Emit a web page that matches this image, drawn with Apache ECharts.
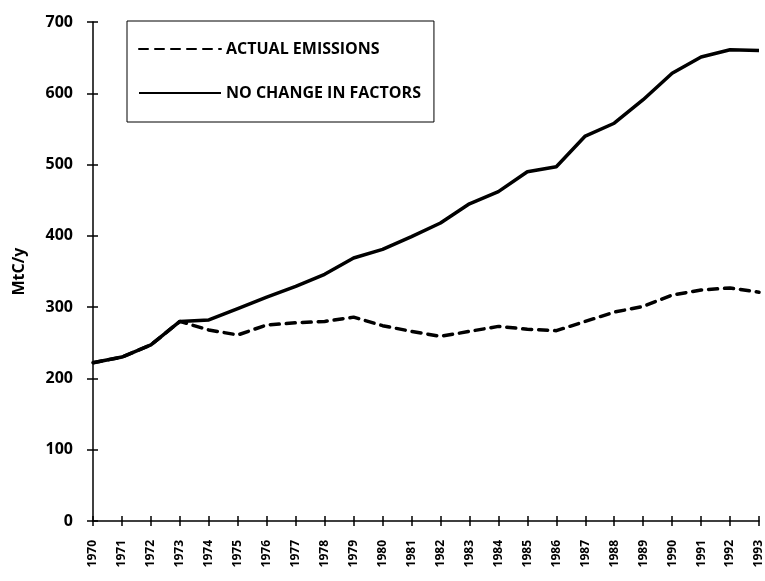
<!DOCTYPE html>
<html>
<head>
<meta charset="utf-8">
<script src="https://cdn.jsdelivr.net/npm/echarts@6/dist/echarts.min.js"></script>
<style>
html,body{margin:0;padding:0;background:#fff;}
#chart{width:765px;height:581px;}
</style>
</head>
<body>
<div id="chart"></div>
<script>
const years = ['1970','1971','1972','1973','1974','1975','1976','1977','1978','1979','1980','1981','1982','1983','1984','1985','1986','1987','1988','1989','1990','1991','1992','1993'];
const noChangeInFactors = [222, 230, 247, 280, 282, 298, 314, 329, 346, 369, 381, 399, 418, 445, 462, 490, 497, 540, 558, 591, 628, 651, 661, 660];
const actualEmissions = [222, 230, 247, 280, 268, 261, 275, 278, 280, 286, 274, 266, 259, 266, 273, 269, 267, 280, 293, 301, 317, 324, 327, 321];
const yTicks = {min: 0, max: 700, interval: 100};
const yName = 'MtC/y';
const seriesNames = ['ACTUAL EMISSIONS', 'NO CHANGE IN FACTORS'];

const FONT = '"Open Sans", sans-serif';
const chart = echarts.init(document.getElementById('chart'), null, {renderer: 'canvas'});

chart.setOption({
  animation: false,
  backgroundColor: '#fff',
  grid: {left: 93, right: 6, top: 22, bottom: 60, outerBoundsMode: 'none'},
  legend: {
    data: seriesNames,
    orient: 'vertical',
    left: 127, top: 21,
    padding: [20, 13, 21, 11],
    itemWidth: 82, itemHeight: 14, itemGap: 28,
    borderColor: '#000', borderWidth: 1,
    itemStyle: {opacity: 0},
    textStyle: {fontFamily: FONT, fontWeight: 'bold', fontSize: 16, color: '#000'}
  },
  xAxis: [{
    type: 'category', data: years, boundaryGap: false,
    axisLine: {lineStyle: {color: '#000', width: 1.5}},
    axisTick: {show: true, inside: false, length: 5, interval: 0, lineStyle: {color: '#000', width: 1.5}},
    axisLabel: {
      rotate: 90, margin: 19, interval: 0, alignMaxLabel: 'right',
      fontFamily: FONT, fontWeight: 'bold', fontSize: 12, color: '#000'
    },
    splitLine: {show: false}
  }, {
    type: 'category', data: years, boundaryGap: false, position: 'bottom',
    axisLine: {show: false},
    axisTick: {show: true, inside: true, length: 5, interval: 0, lineStyle: {color: '#000', width: 1.5}},
    axisLabel: {show: false, interval: 0}, splitLine: {show: false}
  }],
  yAxis: [{
    type: 'value', min: yTicks.min, max: yTicks.max, interval: yTicks.interval,
    name: yName, nameLocation: 'middle', nameRotate: 90, nameGap: 66,
    nameTextStyle: {fontFamily: FONT, fontWeight: 'bold', fontSize: 16, color: '#000'},
    axisLine: {show: true, lineStyle: {color: '#000', width: 1.5}},
    axisTick: {show: true, inside: false, length: 6, lineStyle: {color: '#000', width: 1.5}},
    axisLabel: {margin: 20, fontFamily: FONT, fontWeight: 'bold', fontSize: 16, color: '#000'},
    splitLine: {show: false}
  }, {
    type: 'value', min: yTicks.min, max: yTicks.max, interval: yTicks.interval, position: 'left',
    axisLine: {show: false},
    axisTick: {show: true, inside: true, length: 5, lineStyle: {color: '#000', width: 1.5}},
    axisLabel: {show: false}, splitLine: {show: false}
  }],
  series: [{
    name: seriesNames[0], type: 'line', data: actualEmissions,
    symbol: 'none', z: 2,
    lineStyle: {color: '#000', width: 3.5, type: [9, 7], cap: 'round'},
    itemStyle: {color: '#000'}
  }, {
    name: seriesNames[1], type: 'line', data: noChangeInFactors,
    symbol: 'none', z: 3,
    lineStyle: {color: '#000', width: 3.5, type: 'solid'},
    itemStyle: {color: '#000'}
  }]
});
</script>
</body>
</html>
